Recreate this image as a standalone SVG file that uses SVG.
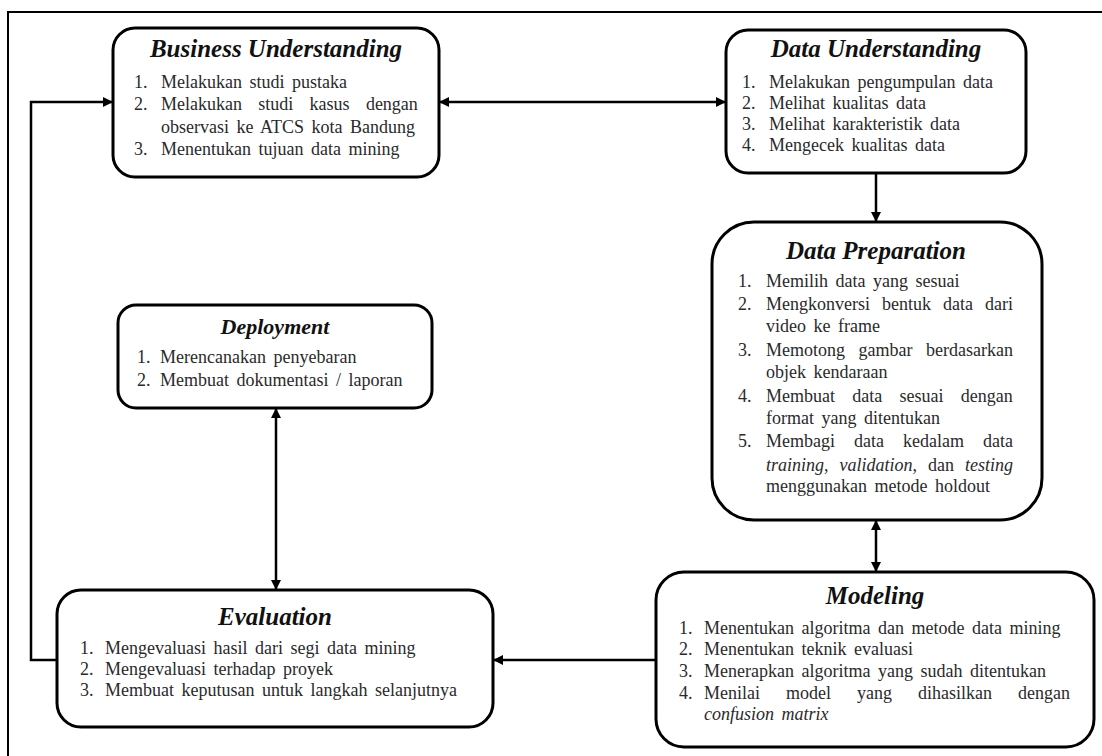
<svg xmlns="http://www.w3.org/2000/svg" width="1102" height="756" viewBox="0 0 1102 756">
  <style>
    .box { fill: #fff; stroke: #000; stroke-width: 3; }
    .title { font-family: "Liberation Serif", "Times New Roman", serif; font-size: 25px; font-weight: bold; font-style: italic; fill: #111; text-anchor: middle; }
    .item { font-family: "Liberation Serif", "Times New Roman", serif; font-size: 18px; fill: #2a2a2a; word-spacing: 3px; }
    .it { font-style: italic; }
    .wire { fill: none; stroke: #000; stroke-width: 2.5; }
    .frame { fill: none; stroke: #000; stroke-width: 2; }
  </style>
  <defs>
    <marker id="arrow" viewBox="0 0 10 10" refX="10" refY="5" markerWidth="10" markerHeight="10" markerUnits="userSpaceOnUse" orient="auto-start-reverse">
      <path d="M0,0 L10,5 L0,10 z" fill="#000"/>
    </marker>
  </defs>

  <rect width="1102" height="756" fill="#fff"/>
  <path class="frame" d="M8,756 V12 H1102"/>

  <!-- connectors -->
  <g id="connectors">
    <line class="wire" x1="439" y1="102" x2="726" y2="102" marker-start="url(#arrow)" marker-end="url(#arrow)"/>
    <polyline class="wire" points="57,660 31,660 31,102 113,102" marker-end="url(#arrow)"/>
    <line class="wire" x1="876" y1="173" x2="876" y2="222" marker-end="url(#arrow)"/>
    <line class="wire" x1="876" y1="520" x2="876" y2="572" marker-start="url(#arrow)" marker-end="url(#arrow)"/>
    <line class="wire" x1="656" y1="660" x2="493" y2="660" marker-end="url(#arrow)"/>
    <line class="wire" x1="276" y1="408" x2="276" y2="590" marker-start="url(#arrow)" marker-end="url(#arrow)"/>
  </g>

  <!-- Business Understanding -->
  <g id="business-understanding">
    <rect class="box" x="113" y="28" width="326" height="149" rx="22"/>
    <text class="title" x="276" y="57">Business Understanding</text>
    <text class="item" x="134" y="88">1.</text><text class="item" x="161" y="88">Melakukan studi pustaka</text>
    <text class="item" x="134" y="110">2.</text><text class="item" x="161" y="110" style="word-spacing:11.8px">Melakukan studi kasus dengan</text>
    <text class="item" x="161" y="133">observasi ke ATCS kota Bandung</text>
    <text class="item" x="134" y="155">3.</text><text class="item" x="161" y="155">Menentukan tujuan data mining</text>
  </g>

  <!-- Data Understanding -->
  <g id="data-understanding">
    <rect class="box" x="726" y="30" width="300" height="143" rx="22"/>
    <text class="title" x="876" y="57">Data Understanding</text>
    <text class="item" x="742" y="88">1.</text><text class="item" x="769" y="88">Melakukan pengumpulan data</text>
    <text class="item" x="742" y="109">2.</text><text class="item" x="769" y="109">Melihat kualitas data</text>
    <text class="item" x="742" y="130">3.</text><text class="item" x="769" y="130">Melihat karakteristik data</text>
    <text class="item" x="742" y="151">4.</text><text class="item" x="769" y="151">Mengecek kualitas data</text>
  </g>

  <!-- Data Preparation -->
  <g id="data-preparation">
    <rect class="box" x="712" y="222" width="330" height="298" rx="42"/>
    <text class="title" x="876" y="259">Data Preparation</text>
    <text class="item" x="738" y="287">1.</text><text class="item" x="766" y="287">Memilih data yang sesuai</text>
    <text class="item" x="738" y="310">2.</text><text class="item" x="766" y="310" style="word-spacing:7.5px">Mengkonversi bentuk data dari</text>
    <text class="item" x="766" y="332">video ke frame</text>
    <text class="item" x="738" y="356">3.</text><text class="item" x="766" y="356" style="word-spacing:9px">Memotong gambar berdasarkan</text>
    <text class="item" x="766" y="378">objek kendaraan</text>
    <text class="item" x="738" y="402">4.</text><text class="item" x="766" y="402" style="word-spacing:12.8px">Membuat data sesuai dengan</text>
    <text class="item" x="766" y="424">format yang ditentukan</text>
    <text class="item" x="738" y="447">5.</text><text class="item" x="766" y="447" style="word-spacing:14.5px">Membagi data kedalam data</text>
    <text class="item" x="766" y="471" style="word-spacing:6.5px"><tspan class="it">training</tspan>, <tspan class="it">validation</tspan>, dan <tspan class="it">testing</tspan></text>
    <text class="item" x="766" y="492">menggunakan metode holdout</text>
  </g>

  <!-- Deployment -->
  <g id="deployment">
    <rect class="box" x="118" y="305" width="314" height="103" rx="18"/>
    <text class="title" x="275" y="334" style="font-size:22px">Deployment</text>
    <text class="item" x="137" y="363">1.</text><text class="item" x="160" y="363">Merencanakan penyebaran</text>
    <text class="item" x="137" y="386">2.</text><text class="item" x="160" y="386">Membuat dokumentasi / laporan</text>
  </g>

  <!-- Evaluation -->
  <g id="evaluation">
    <rect class="box" x="57" y="590" width="436" height="137" rx="24"/>
    <text class="title" x="275" y="625">Evaluation</text>
    <text class="item" x="80" y="654">1.</text><text class="item" x="105" y="654">Mengevaluasi hasil dari segi data mining</text>
    <text class="item" x="80" y="675">2.</text><text class="item" x="105" y="675">Mengevaluasi terhadap proyek</text>
    <text class="item" x="80" y="696">3.</text><text class="item" x="105" y="696">Membuat keputusan untuk langkah selanjutnya</text>
  </g>

  <!-- Modeling -->
  <g id="modeling">
    <rect class="box" x="656" y="572" width="438" height="175" rx="28"/>
    <text class="title" x="875" y="604">Modeling</text>
    <text class="item" x="679" y="634">1.</text><text class="item" x="704" y="634">Menentukan algoritma dan metode data mining</text>
    <text class="item" x="679" y="655">2.</text><text class="item" x="704" y="655">Menentukan teknik evaluasi</text>
    <text class="item" x="679" y="677">3.</text><text class="item" x="704" y="677">Menerapkan algoritma yang sudah ditentukan</text>
    <text class="item" x="679" y="699">4.</text><text class="item" x="704" y="699" style="word-spacing:21.5px">Menilai model yang dihasilkan dengan</text>
    <text class="item" x="704" y="720"><tspan class="it">confusion matrix</tspan></text>
  </g>
</svg>
